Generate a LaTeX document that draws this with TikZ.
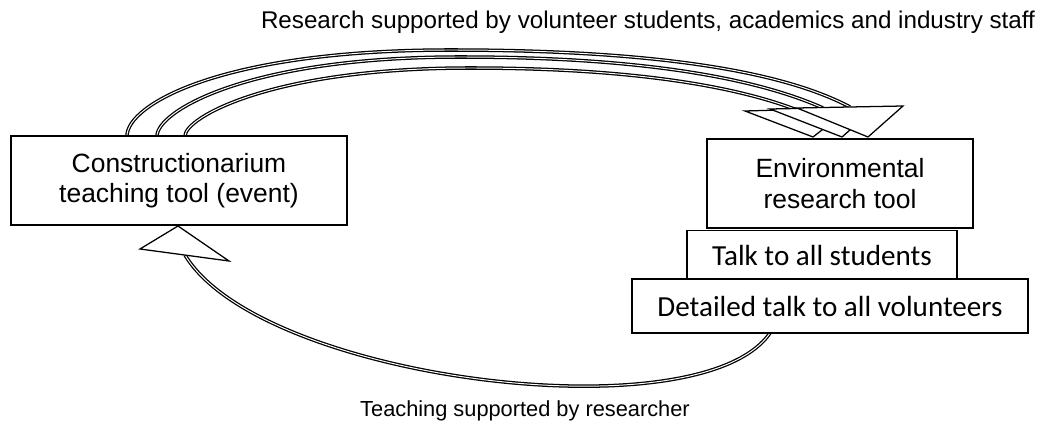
\documentclass[tikz,border=0pt]{standalone}
\usepackage{fontspec}
\setmainfont{Liberation Sans}
\newfontfamily\talkfont{Carlito}
\begin{document}
\begin{tikzpicture}[x=0.025cm,y=-0.025cm,
        toolbox/.style={draw,line width=1.1pt,fill=white,inner sep=0pt,align=center,font=\fontsize{18.8}{21.5}\selectfont},
        talkbox/.style={draw,line width=1.1pt,fill=white,inner sep=0pt,font=\talkfont\fontsize{20.7}{24}\selectfont},
        loopline/.style={double,double distance=0.7pt,line width=0.9pt},
        loophead/.style={draw,fill=white,line width=0.9pt,line join=miter},
        looplabel/.style={font=\fontsize{15.5}{18}\selectfont}]
        \useasboundingbox (0,0) rectangle (1044,432);

        % arrow ends
        \coordinate (s1) at (127,136);
        \coordinate (s2) at (157,136);
        \coordinate (s3) at (185,136);
        \coordinate (e1) at (850,107);
        \coordinate (e2) at (823,108);
        \coordinate (e3) at (797,110);
        \coordinate (b1) at (770,333);
        \coordinate (b2) at (185,255);

        % research arrows
        \draw[loopline] (s1) .. controls (127,105) and (220,50) .. (450,50) .. controls (650,50) and (780,70) .. (e1);
        \draw[loopline] (s2) .. controls (157,112) and (245,57) .. (460,57) .. controls (650,57) and (760,80) .. (e2);
        \draw[loopline] (s3) .. controls (185,118) and (270,68) .. (470,68) .. controls (640,68) and (740,88) .. (e3);
        \filldraw[loophead] (745,111) -- (850,108) -- (813,137) -- cycle;
        \filldraw[loophead] (770,109) -- (876,107) -- (842,137) -- cycle;
        \filldraw[loophead] (797,108) -- (903,106) -- (868,137) -- cycle;

        % teaching arrow
        \draw[loopline] (b1) .. controls (700,435) and (260,380) .. (b2);
        \filldraw[loophead] (178,226) -- (140,249) -- (229,261) -- cycle;

        \node[toolbox,minimum width=8.4cm,minimum height=2.225cm] (teach) at (179,180.5) {Constructionarium\\teaching tool (event)};
        \node[toolbox,minimum width=6.65cm,minimum height=2.225cm] (envtool) at (840,183.5) {Environmental\\research tool};
        \node[talkbox,minimum width=6.75cm,minimum height=1.225cm,text depth=0pt] (talkall) at (822,255) {Talk to all students};
        \node[talkbox,minimum width=9.9cm,minimum height=1.35cm,text depth=0pt] (talkvol) at (830,306) {Detailed talk to all volunteers};

        \node[looplabel,font=\fontsize{17.2}{20}\selectfont] (research) at (648,22) {Research supported by volunteer students, academics and industry staff};
        \node[looplabel] (teaching) at (525,411) {Teaching supported by researcher};

\end{tikzpicture}
\end{document}
